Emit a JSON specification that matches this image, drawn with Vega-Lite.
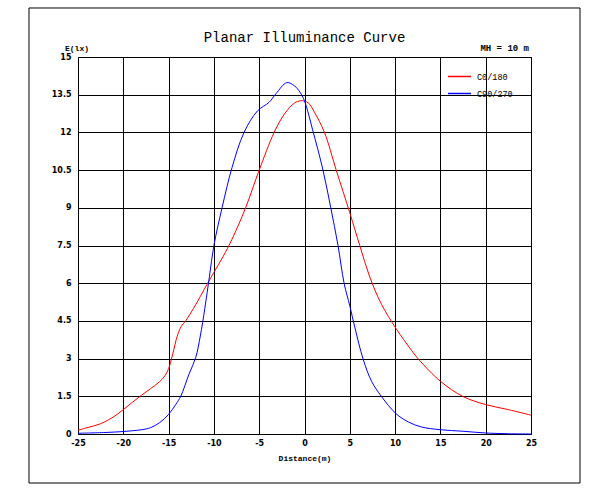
{
  "$schema": "https://vega.github.io/schema/vega-lite/v6.json",
  "description": "Planar illuminance curve, C0/180 and C90/270 planes, mounting height 10 m",
  "width": 453,
  "height": 377,
  "padding": {"left": 28, "top": 7, "right": 12, "bottom": 10},
  "background": "white",
  "config": {
    "view": {"stroke": "black", "strokeWidth": 1},
    "axis": {
      "domain": false,
      "ticks": false,
      "grid": true,
      "gridColor": "black",
      "gridOpacity": 1,
      "gridWidth": 1,
      "labelFont": "DejaVu Sans",
      "labelFontWeight": "bold",
      "labelFontSize": 8,
      "labelColor": "black",
      "labelOverlap": false,
      "labelFlush": false,
      "labelBound": false,
      "titleFont": "Liberation Mono",
      "titleFontWeight": "bold",
      "titleFontSize": 8,
      "titleColor": "black"
    }
  },
  "layer": [
    {
      "data": {"values": [{}]},
      "mark": {"type": "rect", "fillOpacity": 0, "stroke": "black", "strokeWidth": 1, "clip": false},
      "encoding": {
        "x": {"datum": -30.41, "type": "quantitative"},
        "x2": {"datum": 30.41},
        "y": {"datum": 16.95, "type": "quantitative"},
        "y2": {"datum": -1.95}
      }
    },
    {
      "data": {
        "values": [
          {"series": "C0/180", "d": -25, "e": 0.15},
          {"series": "C0/180", "d": -24, "e": 0.25},
          {"series": "C0/180", "d": -22.5, "e": 0.41},
          {"series": "C0/180", "d": -21, "e": 0.7},
          {"series": "C0/180", "d": -20, "e": 0.97},
          {"series": "C0/180", "d": -19, "e": 1.26},
          {"series": "C0/180", "d": -18, "e": 1.54},
          {"series": "C0/180", "d": -17, "e": 1.8},
          {"series": "C0/180", "d": -16, "e": 2.08},
          {"series": "C0/180", "d": -15.4, "e": 2.32},
          {"series": "C0/180", "d": -15, "e": 2.6},
          {"series": "C0/180", "d": -14.6, "e": 3.1},
          {"series": "C0/180", "d": -14, "e": 3.95},
          {"series": "C0/180", "d": -13.6, "e": 4.28},
          {"series": "C0/180", "d": -13.1, "e": 4.51},
          {"series": "C0/180", "d": -12, "e": 5.15},
          {"series": "C0/180", "d": -11, "e": 5.8},
          {"series": "C0/180", "d": -10, "e": 6.43},
          {"series": "C0/180", "d": -9, "e": 7.05},
          {"series": "C0/180", "d": -8, "e": 7.75},
          {"series": "C0/180", "d": -6.5, "e": 9.0},
          {"series": "C0/180", "d": -5, "e": 10.5},
          {"series": "C0/180", "d": -3.35, "e": 12.0},
          {"series": "C0/180", "d": -2.2, "e": 12.74},
          {"series": "C0/180", "d": -1.1, "e": 13.17},
          {"series": "C0/180", "d": -0.4, "e": 13.26},
          {"series": "C0/180", "d": 0.4, "e": 13.18},
          {"series": "C0/180", "d": 1.1, "e": 12.8},
          {"series": "C0/180", "d": 2.2, "e": 12.0},
          {"series": "C0/180", "d": 3.5, "e": 10.5},
          {"series": "C0/180", "d": 5, "e": 8.8},
          {"series": "C0/180", "d": 6.1, "e": 7.5},
          {"series": "C0/180", "d": 7.2, "e": 6.25},
          {"series": "C0/180", "d": 8.5, "e": 5.16},
          {"series": "C0/180", "d": 10.1, "e": 4.2},
          {"series": "C0/180", "d": 11.85, "e": 3.31},
          {"series": "C0/180", "d": 12.6, "e": 2.97},
          {"series": "C0/180", "d": 15, "e": 2.1},
          {"series": "C0/180", "d": 17.5, "e": 1.49},
          {"series": "C0/180", "d": 20, "e": 1.17},
          {"series": "C0/180", "d": 22.5, "e": 0.97},
          {"series": "C0/180", "d": 25, "e": 0.75},
          {"series": "C90/270", "d": -25, "e": 0.03},
          {"series": "C90/270", "d": -22, "e": 0.06},
          {"series": "C90/270", "d": -20, "e": 0.1},
          {"series": "C90/270", "d": -18, "e": 0.17},
          {"series": "C90/270", "d": -17, "e": 0.25},
          {"series": "C90/270", "d": -16, "e": 0.45},
          {"series": "C90/270", "d": -15, "e": 0.78},
          {"series": "C90/270", "d": -14.2, "e": 1.18},
          {"series": "C90/270", "d": -13.66, "e": 1.5},
          {"series": "C90/270", "d": -12.75, "e": 2.38},
          {"series": "C90/270", "d": -12, "e": 3.05},
          {"series": "C90/270", "d": -11.5, "e": 3.9},
          {"series": "C90/270", "d": -11, "e": 5.0},
          {"series": "C90/270", "d": -10.5, "e": 6.25},
          {"series": "C90/270", "d": -10, "e": 7.5},
          {"series": "C90/270", "d": -9.1, "e": 9.0},
          {"series": "C90/270", "d": -8.0, "e": 10.6},
          {"series": "C90/270", "d": -6.67, "e": 12.0},
          {"series": "C90/270", "d": -5.2, "e": 12.85},
          {"series": "C90/270", "d": -3.9, "e": 13.2},
          {"series": "C90/270", "d": -3.15, "e": 13.54},
          {"series": "C90/270", "d": -1.95, "e": 13.98},
          {"series": "C90/270", "d": -1.1, "e": 13.85},
          {"series": "C90/270", "d": -0.5, "e": 13.6},
          {"series": "C90/270", "d": 0, "e": 13.25},
          {"series": "C90/270", "d": 0.9, "e": 12.1},
          {"series": "C90/270", "d": 2.04, "e": 10.5},
          {"series": "C90/270", "d": 2.9, "e": 9.0},
          {"series": "C90/270", "d": 3.7, "e": 7.5},
          {"series": "C90/270", "d": 4.37, "e": 6.0},
          {"series": "C90/270", "d": 5, "e": 5.1},
          {"series": "C90/270", "d": 5.55, "e": 4.25},
          {"series": "C90/270", "d": 6.48, "e": 2.97},
          {"series": "C90/270", "d": 7.4, "e": 2.1},
          {"series": "C90/270", "d": 8.5, "e": 1.49},
          {"series": "C90/270", "d": 10.1, "e": 0.81},
          {"series": "C90/270", "d": 11.46, "e": 0.48},
          {"series": "C90/270", "d": 12.9, "e": 0.28},
          {"series": "C90/270", "d": 15, "e": 0.17},
          {"series": "C90/270", "d": 17.5, "e": 0.11},
          {"series": "C90/270", "d": 20, "e": 0.04},
          {"series": "C90/270", "d": 22.5, "e": 0.01},
          {"series": "C90/270", "d": 25, "e": 0.0}
        ]
      },
      "mark": {"type": "line", "strokeWidth": 1, "interpolate": "catmull-rom"},
      "encoding": {
        "x": {
          "field": "d",
          "type": "quantitative",
          "scale": {"domain": [-25, 25], "nice": false, "zero": false},
          "axis": {
            "title": "Distance(m)",
            "values": [-25, -20, -15, -10, -5, 0, 5, 10, 15, 20, 25],
            "tickCount": 11,
            "format": "d",
            "labelExpr": "replace(datum.label, '−', '-')",
            "labelPadding": 5,
            "titleY": 24,
            "titleBaseline": "middle"
          }
        },
        "y": {
          "field": "e",
          "type": "quantitative",
          "scale": {"domain": [0, 15], "nice": false},
          "axis": {
            "title": "E(lx)",
            "values": [0, 1.5, 3, 4.5, 6, 7.5, 9, 10.5, 12, 13.5, 15],
            "tickCount": 11,
            "format": ".1~f",
            "labelPadding": 7,
            "titleAngle": 0,
            "titleX": -1.5,
            "titleY": -8.5,
            "titleAlign": "center",
            "titleBaseline": "middle"
          }
        },
        "color": {
          "field": "series",
          "type": "nominal",
          "scale": {"domain": ["C0/180", "C90/270"], "range": ["#ff0000", "#0000ff"]},
          "legend": {
            "title": null,
            "orient": "none",
            "legendX": 369,
            "legendY": 7,
            "symbolType": "stroke",
            "symbolSize": 529,
            "symbolStrokeWidth": 1.5,
            "labelFont": "Liberation Mono",
            "labelFontSize": 8.5,
            "labelColor": "black",
            "labelOffset": 5,
            "rowPadding": -2
          }
        }
      }
    },
    {
      "data": {"values": [{}]},
      "mark": {"type": "text", "font": "Liberation Mono", "fontSize": 14, "baseline": "alphabetic", "align": "center", "color": "black"},
      "encoding": {
        "x": {"datum": 0, "type": "quantitative"},
        "y": {"datum": 15.6, "type": "quantitative"},
        "text": {"value": "Planar Illuminance Curve"}
      }
    },
    {
      "data": {"values": [{}]},
      "mark": {"type": "text", "font": "Liberation Mono", "fontWeight": "bold", "fontSize": 9, "baseline": "middle", "align": "right", "dy": -9, "dx": -2, "color": "black"},
      "encoding": {
        "x": {"datum": 25, "type": "quantitative"},
        "y": {"datum": 15, "type": "quantitative"},
        "text": {"value": "MH = 10 m"}
      }
    }
  ]
}
